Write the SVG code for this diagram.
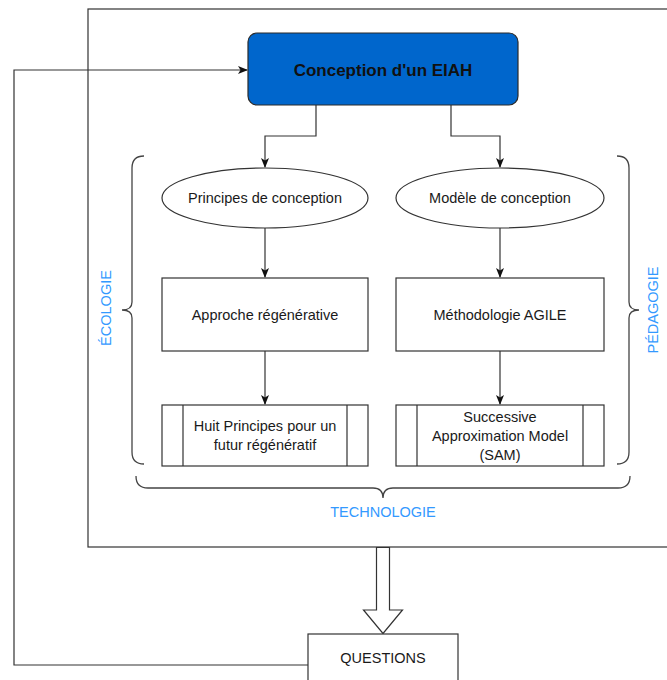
<svg xmlns="http://www.w3.org/2000/svg" width="667" height="680" viewBox="0 0 667 680">
<defs>
<marker id="arr" markerWidth="10" markerHeight="8" refX="9" refY="4" orient="auto" markerUnits="userSpaceOnUse">
<path d="M0,0 L10,4 L0,8 L2.5,4 Z" fill="#111"/>
</marker>
<style>
.ln{fill:none;stroke:#333;stroke-width:1.2}
.bx{fill:#fff;stroke:#333;stroke-width:1.2}
.t{font-family:"Liberation Sans",Arial,sans-serif;font-size:14.5px;fill:#1a1a1a;text-anchor:middle;dominant-baseline:central}
.lab{font-family:"Liberation Sans",Arial,sans-serif;font-size:14.5px;fill:#3399FF;text-anchor:middle;dominant-baseline:central}
.br{fill:none;stroke:#444;stroke-width:1.3}
</style>
</defs>
<rect width="667" height="680" fill="#fff"/>

<g id="outer-frame"><rect x="88" y="9" width="600" height="538" class="bx" fill="none"/></g>

<g id="connectors">
<path class="ln" d="M308,665 H14 V70 H247" marker-end="url(#arr)"/>
<path class="ln" d="M316,105 V136 H265 V167" marker-end="url(#arr)"/>
<path class="ln" d="M451,105 V136 H500 V167" marker-end="url(#arr)"/>
<path class="ln" d="M265,228 V277" marker-end="url(#arr)"/>
<path class="ln" d="M500,228 V277" marker-end="url(#arr)"/>
<path class="ln" d="M265,351 V404" marker-end="url(#arr)"/>
<path class="ln" d="M500,351 V404" marker-end="url(#arr)"/>
<path class="bx" d="M376.5,547.5 V610 H363.5 L383,633.5 L402.5,610 H389.5 V547.5 Z"/>
</g>

<g id="conception">
<rect x="248" y="33" width="270" height="72" rx="9" fill="#0066CC" stroke="#2a2a2a" stroke-width="1.2"/>
<text x="383" y="70" class="t" style="font-weight:bold;font-size:17px;fill:#111">Conception d'un EIAH</text>
</g>

<g id="principes">
<ellipse cx="265" cy="198" rx="103" ry="30" class="bx"/>
<text x="265" y="198" class="t">Principes de conception</text>
</g>
<g id="modele">
<ellipse cx="500" cy="198" rx="104" ry="30" class="bx"/>
<text x="500" y="198" class="t">Modèle de conception</text>
</g>

<g id="approche">
<rect x="162" y="278" width="206" height="73" class="bx"/>
<text x="265" y="315" class="t">Approche régénérative</text>
</g>
<g id="agile">
<rect x="396" y="278" width="208" height="73" class="bx"/>
<text x="500" y="315" class="t">Méthodologie AGILE</text>
</g>

<g id="huit">
<rect x="162" y="405" width="206" height="61" class="bx"/>
<path class="ln" d="M183,405 V466 M347,405 V466"/>
<text x="265" y="426" class="t">Huit Principes pour un</text>
<text x="265" y="445" class="t">futur régénératif</text>
</g>
<g id="sam">
<rect x="396" y="405" width="208" height="61" class="bx"/>
<path class="ln" d="M417,405 V466 M583,405 V466"/>
<text x="500" y="417" class="t">Successive</text>
<text x="500" y="436" class="t">Approximation Model</text>
<text x="500" y="455" class="t">(SAM)</text>
</g>

<g id="questions">
<rect x="308" y="634" width="150" height="60" class="bx"/>
<text x="383" y="658" class="t">QUESTIONS</text>
</g>

<g id="braces">
<path class="br" d="M144,156 Q132,156 132,168 L132,302 Q132,310 122,310 Q132,310 132,318 L132,452 Q132,464 144,464"/>
<path class="br" d="M617,156 Q629,156 629,168 L629,302 Q629,310 639,310 Q629,310 629,318 L629,452 Q629,464 617,464"/>
<path class="br" d="M136,476 Q136,488 148,488 L373,488 Q383,488 383,498 Q383,488 393,488 L618,488 Q630,488 630,476"/>
</g>

<g id="labels">
<text class="lab" transform="translate(106,308) rotate(-90)">ÉCOLOGIE</text>
<text class="lab" transform="translate(653,310) rotate(-90)">PÉDAGOGIE</text>
<text class="lab" x="383" y="512">TECHNOLOGIE</text>
</g>
</svg>
